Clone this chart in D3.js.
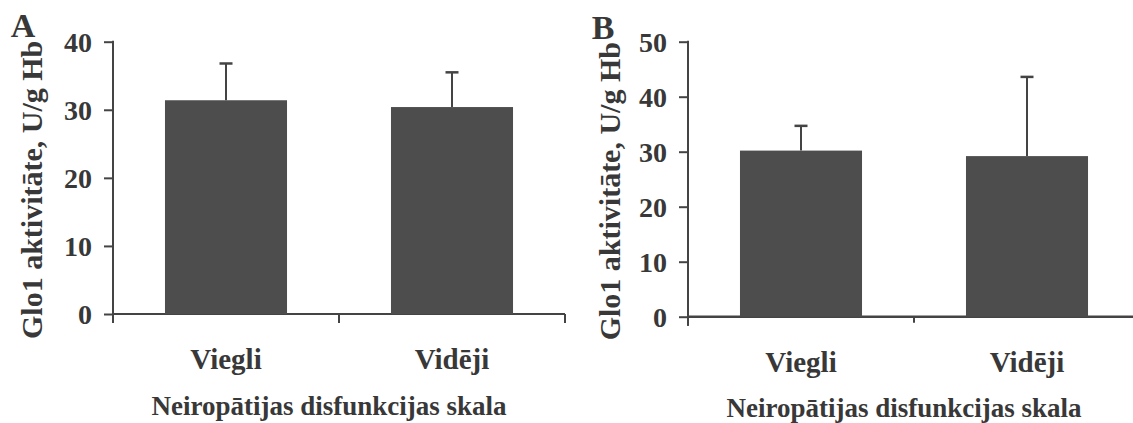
<!DOCTYPE html>
<html>
<head>
<meta charset="utf-8">
<script src="https://cdn.jsdelivr.net/npm/d3@7"></script>
<style>
  html, body { margin: 0; padding: 0; background: #fff; }
  svg { display: block; }
  text { font-family: "Liberation Serif", "Times New Roman", serif; font-weight: bold; fill: #383838; }
</style>
</head>
<body>
<svg id="chart" width="1133" height="423"></svg>
<script>
// ---- data ----
const categories = ["Viegli", "Vidēji"];
const panelLetters = ["A", "B"];
const meansA = [31.4, 30.4];
const errA = [5.4, 5.1];
const meansB = [30.2, 29.2];
const errB = [4.5, 14.4];
const ticksA = [0, 10, 20, 30, 40];
const ticksB = [0, 10, 20, 30, 40, 50];
const yTitle = "Glo1 aktivitāte, U/g Hb";
const xTitle = "Neiropātijas disfunkcijas skala";

const svg = d3.select("#chart");
const ink = "#444";
const barFill = "#4d4d4d";

const panels = [
  { letter: panelLetters[0], means: meansA, errs: errA, ticks: ticksA, ymax: 40,
    x0: 113, x1: 565, y0: 314, y1: 41.7, axisW: 2, midTick: 9,
    letterX: 23, letterY: 37, titleX: 42, labelsY: 369, xTitleY: 415 },
  { letter: panelLetters[1], means: meansB, errs: errB, ticks: ticksB, ymax: 50,
    x0: 688, x1: 1140, y0: 316.7, y1: 41.7, axisW: 2.5, midTick: 6,
    letterX: 603, letterY: 39, titleX: 620, labelsY: 372, xTitleY: 417 }
];

panels.forEach(p => {
  const g = svg.append("g");
  const x = d3.scaleBand().domain(categories).range([p.x0, p.x1])
    .paddingInner(0.46).paddingOuter(0.23);
  const y = d3.scaleLinear().domain([0, p.ymax]).range([p.y0, p.y1]);

  // x-axis baseline
  g.append("line").attr("x1", p.x0).attr("x2", p.x1)
    .attr("y1", y(0)).attr("y2", y(0))
    .attr("stroke", ink).attr("stroke-width", p.axisW);

  // x-axis ticks at category boundaries
  const bounds = [p.x0, (x(categories[0]) + x(categories[1]) + x.bandwidth()) / 2, p.x1];
  g.selectAll(".xt").data(bounds).join("line")
    .attr("x1", d => d).attr("x2", d => d)
    .attr("y1", y(0)).attr("y2", (d, i) => y(0) + (i === 1 ? p.midTick : 9))
    .attr("stroke", ink).attr("stroke-width", 2);

  // y-axis
  const yAxis = d3.axisLeft(y).tickValues(p.ticks).tickSize(9).tickPadding(12)
    .tickFormat(d3.format("d"));
  const ya = g.append("g").attr("transform", `translate(${p.x0},0)`).call(yAxis);
  ya.select(".domain").remove();
  ya.selectAll(".tick line").attr("stroke", ink).attr("stroke-width", 2);
  ya.selectAll(".tick text").attr("font-size", 28)
    .attr("font-family", "Liberation Serif, serif").attr("font-weight", "bold")
    .attr("fill", "#383838").attr("dy", "0.34em");
  g.append("line").attr("x1", p.x0).attr("x2", p.x0)
    .attr("y1", y(p.ymax) - 1).attr("y2", y(0) + 9)
    .attr("stroke", ink).attr("stroke-width", 2);

  // bars
  g.selectAll(".bar").data(p.means).join("rect")
    .attr("x", (d, i) => x(categories[i]))
    .attr("width", x.bandwidth())
    .attr("y", d => y(d))
    .attr("height", d => y(0) - y(d))
    .attr("fill", barFill);

  // error bars (upper only)
  const cx = i => x(categories[i]) + x.bandwidth() / 2;
  g.selectAll(".ev").data(p.means).join("line")
    .attr("x1", (d, i) => cx(i)).attr("x2", (d, i) => cx(i))
    .attr("y1", d => y(d)).attr("y2", (d, i) => y(d + p.errs[i]))
    .attr("stroke", ink).attr("stroke-width", 2);
  g.selectAll(".ec").data(p.means).join("line")
    .attr("x1", (d, i) => cx(i) - 6.5).attr("x2", (d, i) => cx(i) + 6.5)
    .attr("y1", (d, i) => y(d + p.errs[i])).attr("y2", (d, i) => y(d + p.errs[i]))
    .attr("stroke", ink).attr("stroke-width", 2.5);

  // category labels
  g.selectAll(".cl").data(categories).join("text")
    .attr("x", d => x(d) + x.bandwidth() / 2).attr("y", p.labelsY)
    .attr("text-anchor", "middle").attr("font-size", 29).text(d => d);

  // x title
  g.append("text").attr("x", (p.x0 + p.x1) / 2 - 10).attr("y", p.xTitleY)
    .attr("text-anchor", "middle").attr("font-size", 27).text(xTitle);

  // y title
  g.append("text")
    .attr("transform", `translate(${p.titleX},${(y(0) + y(p.ymax)) / 2 + 12}) rotate(-90)`)
    .attr("text-anchor", "middle").attr("font-size", 30).text(yTitle);

  // panel letter
  g.append("text").attr("x", p.letterX).attr("y", p.letterY)
    .attr("text-anchor", "middle").attr("font-size", 34).text(p.letter);
});
</script>
</body>
</html>
